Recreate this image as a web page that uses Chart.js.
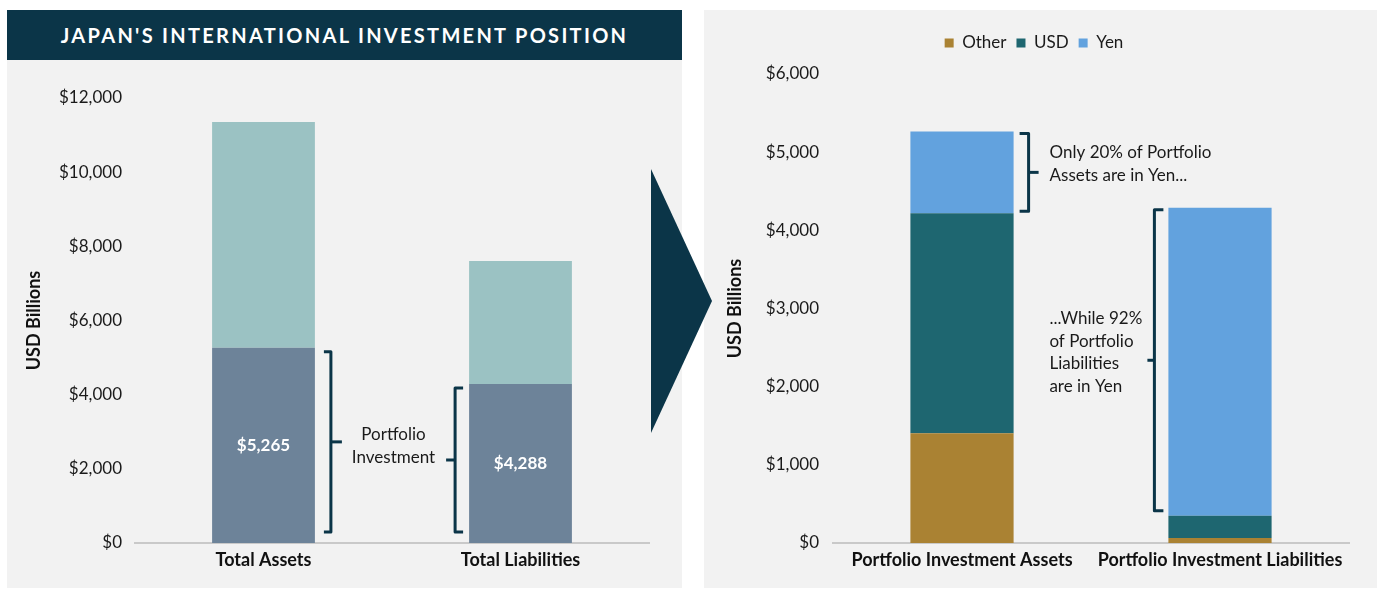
<!DOCTYPE html>
<html><head><meta charset="utf-8">
<script src="https://cdn.jsdelivr.net/npm/chart.js@4.4.1/dist/chart.umd.min.js"></script>
<style>
html,body{margin:0;padding:0;background:#fff;width:1377px;height:590px;overflow:hidden;font-family:Lato,sans-serif}
.panel{position:absolute;background:#f2f2f2}
#banner{position:absolute;left:7px;top:10px;width:675px;height:50px;background:#0b3548;color:#fff;font:700 20px Lato,sans-serif;letter-spacing:2.3px;display:flex;align-items:center;justify-content:center}
#c1wrap{position:absolute;left:7px;top:60px;width:675px;height:528px}
#c2wrap{position:absolute;left:704px;top:10px;width:673px;height:578px}
#arrow{position:absolute;left:0;top:0;pointer-events:none}
</style></head><body>
<div class="panel" style="left:7px;top:10px;width:675px;height:578px"></div>
<div class="panel" style="left:704px;top:10px;width:673px;height:578px"></div>
<div id="banner">JAPAN'S INTERNATIONAL INVESTMENT POSITION</div>
<div id="c1wrap"><canvas id="c1" width="675" height="528"></canvas></div>
<div id="c2wrap"><canvas id="c2" width="673" height="578"></canvas></div>
<svg id="arrow" width="1377" height="590"><polygon points="651,169 712,301 651,433" fill="#0b3548"/></svg>
<script>
// ---- data ----
const leftCategories = ['Total Assets', 'Total Liabilities'];
const portfolioInvestment = [5265, 4288];
const otherInvestment = [6088, 3316];
const leftAxisMax = 12000, leftAxisStep = 2000;

const rightCategories = ['Portfolio Investment Assets', 'Portfolio Investment Liabilities'];
const otherCurrency = [1405, 64];
const usdCurrency = [2813, 285];
const yenCurrency = [1047, 3939];
const rightAxisMax = 6000, rightAxisStep = 1000;

const annotLeft = ['Portfolio', 'Investment'];
const annotRightAssets = ['Only 20% of Portfolio', 'Assets are in Yen...'];
const annotRightLiab = ['...While 92%', 'of Portfolio', 'Liabilities', 'are in Yen'];

// ---- style ----
const NAVY = '#0b3548';
const TXT = '#1a1a1a';
const FONT = 'Lato, sans-serif';
const money = v => '$' + Number(v).toLocaleString('en-US');

function drawBracket(ctx, x, top, bottom, dir, serif, pointer) {
  const s = dir === 'right' ? -1 : 1;
  const mid = (top + bottom) / 2;
  ctx.save();
  ctx.strokeStyle = NAVY; ctx.lineWidth = 3; ctx.lineJoin = 'round'; ctx.lineCap = 'butt';
  ctx.beginPath();
  ctx.moveTo(x + s * serif, top); ctx.lineTo(x, top); ctx.lineTo(x, bottom); ctx.lineTo(x + s * serif, bottom);
  ctx.stroke();
  ctx.beginPath(); ctx.moveTo(x, mid); ctx.lineTo(x - s * pointer, mid); ctx.stroke();
  ctx.restore();
  return mid;
}
function drawLines(ctx, lines, x, y0, lh, align) {
  ctx.save();
  ctx.fillStyle = TXT; ctx.font = '17px ' + FONT; ctx.textAlign = align; ctx.textBaseline = 'middle';
  lines.forEach((t, i) => ctx.fillText(t, x, y0 + i * lh));
  ctx.restore();
}

Chart.defaults.font.family = FONT;
Chart.defaults.color = TXT;

const leftPlugin = {
  id: 'leftAnnot',
  afterDatasetsDraw(chart) {
    const ctx = chart.ctx, y = chart.scales.y, meta = chart.getDatasetMeta(0);
    ctx.save();
    ctx.fillStyle = '#fff'; ctx.font = '700 17px ' + FONT; ctx.textAlign = 'center'; ctx.textBaseline = 'middle';
    meta.data.forEach((bar, i) => ctx.fillText(money(portfolioInvestment[i]), bar.x, (bar.y + bar.base) / 2));
    ctx.restore();
    const b0 = meta.data[0], b1 = meta.data[1];
    const xa = b0.x + b0.width / 2 + 16;
    const xl = b1.x - b1.width / 2 - 14;
    const midA = drawBracket(ctx, xa, y.getPixelForValue(portfolioInvestment[0]) + 4, y.getPixelForValue(0) - 11, 'right', 7, 11);
    drawBracket(ctx, xl, y.getPixelForValue(portfolioInvestment[1]) + 4, y.getPixelForValue(0) - 11, 'left', 8, 9);
    drawLines(ctx, annotLeft, (xa + xl) / 2 + 0.5, midA - 7.5, 23, 'center');
  }
};

const rightPlugin = {
  id: 'rightAnnot',
  beforeInit(chart) {
    const orig = chart.legend.fit;
    chart.legend.fit = function () { orig.call(this); this.height = 49.5; };
  },
  afterDatasetsDraw(chart) {
    const ctx = chart.ctx, y = chart.scales.y;
    const b0 = chart.getDatasetMeta(2).data[0], b1 = chart.getDatasetMeta(2).data[1];
    const totA = otherCurrency[0] + usdCurrency[0] + yenCurrency[0];
    const totL = otherCurrency[1] + usdCurrency[1] + yenCurrency[1];
    const xa = b0.x + b0.width / 2 + 15;
    const topA = y.getPixelForValue(totA) + 2;
    drawBracket(ctx, xa, topA, y.getPixelForValue(otherCurrency[0] + usdCurrency[0]) - 2, 'right', 9, 10);
    drawLines(ctx, annotRightAssets, xa + 21, topA + 19, 23.3, 'left');
    const xl = b1.x - b1.width / 2 - 14;
    const midL = drawBracket(ctx, xl, y.getPixelForValue(totL) + 2, y.getPixelForValue(otherCurrency[1] + usdCurrency[1]) - 5, 'left', 9, 7);
    drawLines(ctx, annotRightLiab, xl - 105, midL - 42, 22.8, 'left');
  }
};

const xTickFont = { size: 18, weight: 'bold' };
const yTitleFont = { size: 18, weight: 'bold' };

new Chart(document.getElementById('c1'), {
  type: 'bar',
  data: {
    labels: leftCategories,
    datasets: [
      { label: 'Portfolio Investment', data: portfolioInvestment, backgroundColor: '#6d8399' },
      { label: 'Other Investment', data: otherInvestment, backgroundColor: '#9bc2c3' }
    ]
  },
  options: {
    responsive: false, animation: false,
    layout: { padding: { top: 38, left: 12, right: 33, bottom: 0 } },
    datasets: { bar: { categoryPercentage: 1, barPercentage: 0.4 } },
    plugins: { legend: { display: false }, tooltip: { enabled: false } },
    scales: {
      x: {
        stacked: true,
        grid: { display: false, drawTicks: false },
        border: { display: true, color: '#c9c9c9', width: 2 },
        ticks: { padding: 6, color: '#111', font: xTickFont },
        afterFit: s => { s.height = 45; }
      },
      y: {
        stacked: true, min: 0, max: leftAxisMax,
        grid: { display: false, drawTicks: false },
        border: { display: false },
        ticks: { stepSize: leftAxisStep, padding: 13, color: TXT, font: { size: 17 }, callback: v => money(v) },
        title: { display: true, text: 'USD Billions', color: '#111', font: yTitleFont, padding: { top: 4, bottom: 0 } },
        afterFit: s => { s.width = 116; }
      }
    }
  },
  plugins: [leftPlugin]
});

new Chart(document.getElementById('c2'), {
  type: 'bar',
  data: {
    labels: rightCategories,
    datasets: [
      { label: 'Other', data: otherCurrency, backgroundColor: '#aa8233' },
      { label: 'USD', data: usdCurrency, backgroundColor: '#1e6670' },
      { label: 'Yen', data: yenCurrency, backgroundColor: '#62a2de' }
    ]
  },
  options: {
    responsive: false, animation: false,
    layout: { padding: { top: 14.5, left: 15, right: 28, bottom: 0 } },
    datasets: { bar: { categoryPercentage: 1, barPercentage: 0.4 } },
    plugins: {
      legend: {
        display: true, position: 'top',
        labels: { boxWidth: 9, boxHeight: 9, padding: 10, color: TXT, font: { size: 17 } }
      },
      tooltip: { enabled: false }
    },
    scales: {
      x: {
        stacked: true,
        grid: { display: false, drawTicks: false },
        border: { display: true, color: '#c9c9c9', width: 2 },
        ticks: { padding: 6, color: '#111', font: xTickFont },
        afterFit: s => { s.height = 45; }
      },
      y: {
        stacked: true, min: 0, max: rightAxisMax,
        grid: { display: false, drawTicks: false },
        border: { display: false },
        ticks: { stepSize: rightAxisStep, padding: 14, color: TXT, font: { size: 17 }, callback: v => money(v) },
        title: { display: true, text: 'USD Billions', color: '#111', font: yTitleFont, padding: { top: 5, bottom: 0 } },
        afterFit: s => { s.width = 114; }
      }
    }
  },
  plugins: [rightPlugin]
});
</script>
</body></html>
